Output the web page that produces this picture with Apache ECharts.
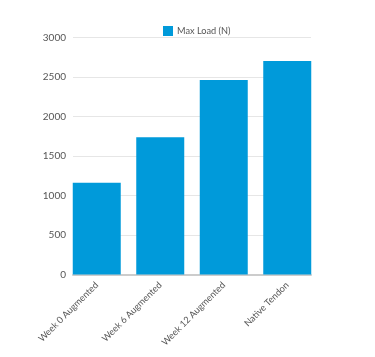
<!DOCTYPE html>
<html><head><meta charset="utf-8">
<script src="https://cdn.jsdelivr.net/npm/echarts@6/dist/echarts.min.js"></script>
<style>html,body{margin:0;padding:0;background:#fff}#c{width:375px;height:357px}</style>
</head><body><div id="c"></div>
<script>
const categories = ["Week 0 Augmented", "Week 6 Augmented", "Week 12 Augmented", "Native Tendon"];
const maxLoad = [1160, 1735, 2460, 2700];
const seriesName = "Max Load (N)";
const yTicks = {min: 0, max: 3000, interval: 500};

const chart = echarts.init(document.getElementById('c'), null, {renderer: 'canvas'});
const font = 'Lato, "Noto Sans", sans-serif';
chart.setOption({
  animation: false,
  backgroundColor: '#fff',
  textStyle: {fontFamily: font},
  legend: {
    top: 21, left: 158, itemWidth: 10, itemHeight: 10, itemGap: 5,
    icon: 'rect',
    textStyle: {fontSize: 9.2, color: '#555', fontFamily: font, padding: [0, 0, 0, -1]},
    data: [seriesName]
  },
  grid: [
    {left: 73, right: 64, top: 37.3, bottom: 82.5, containLabel: false},
    {left: 65, right: 56, top: 37.3, bottom: 82.5, containLabel: false}
  ],
  xAxis: [
    {
      type: 'category', gridIndex: 0, data: categories,
      axisLine: {lineStyle: {color: '#cccccc', width: 2}},
      axisTick: {show: false}, axisLabel: {show: false}
    },
    {
      type: 'category', gridIndex: 1, data: categories,
      axisLine: {show: false},
      axisTick: {show: false},
      axisLabel: {rotate: 45, fontSize: 9.2, color: '#555', margin: 9, interval: 0, fontFamily: font}
    }
  ],
  yAxis: [
    {
      type: 'value', gridIndex: 0, min: yTicks.min, max: yTicks.max, interval: yTicks.interval,
      axisLine: {show: false}, axisTick: {show: false},
      axisLabel: {fontSize: 10, color: '#555', margin: 7, fontFamily: font, formatter: v => String(v)},
      splitLine: {lineStyle: {color: '#e6e6e6', width: 1}}
    },
    {
      type: 'value', gridIndex: 1, min: yTicks.min, max: yTicks.max, interval: yTicks.interval,
      axisLine: {show: false}, axisTick: {show: false},
      axisLabel: {show: false}, splitLine: {show: false}
    }
  ],
  series: [{
    name: seriesName, type: 'bar', data: maxLoad,
    xAxisIndex: 1, yAxisIndex: 1,
    barWidth: 48,
    itemStyle: {color: '#009ada'}
  }]
});
</script></body></html>
